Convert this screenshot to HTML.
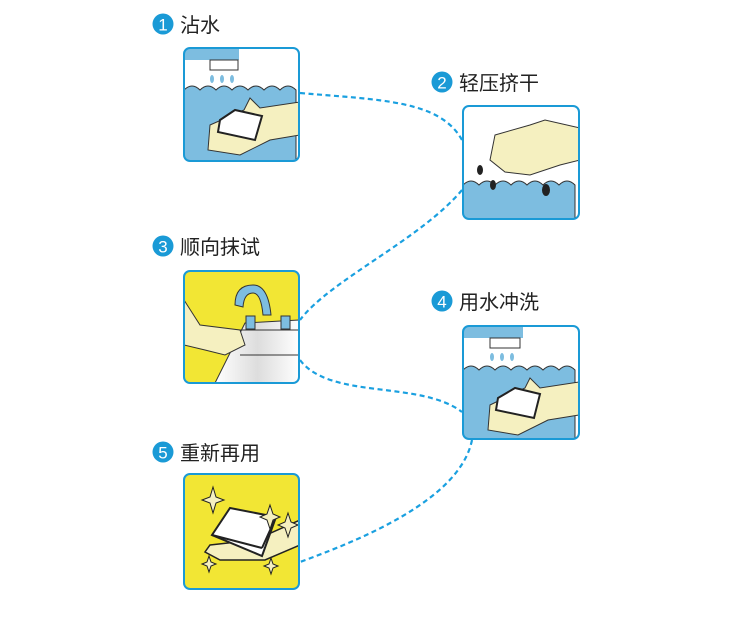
<!DOCTYPE html>
<html><head><meta charset="utf-8"><style>
html,body{margin:0;padding:0;background:#fff;}
svg{display:block}
text{font-family:"Liberation Sans","Noto Sans CJK SC",sans-serif;}
</style></head><body>
<svg width="750" height="621" viewBox="0 0 750 621" xmlns="http://www.w3.org/2000/svg">
<defs>
<clipPath id="c1"><rect x="184" y="48" width="115" height="113" rx="6"/></clipPath>
<clipPath id="c2"><rect x="463" y="106" width="116" height="113" rx="6"/></clipPath>
<clipPath id="c3"><rect x="184" y="271" width="115" height="112" rx="6"/></clipPath>
<clipPath id="c4"><rect x="463" y="326" width="116" height="113" rx="6"/></clipPath>
<clipPath id="c5"><rect x="184" y="474" width="115" height="115" rx="6"/></clipPath>
<linearGradient id="sink" x1="0" x2="1"><stop offset="0" stop-color="#fff"/><stop offset="0.5" stop-color="#ddd"/><stop offset="1" stop-color="#fff"/></linearGradient>
</defs>
<g fill="none" stroke="#1aa0e0" stroke-width="2.2" stroke-dasharray="5,3.5">
<path d="M300 93 C380 100 440 100 462 140"/>
<path d="M462 190 C420 240 330 280 300 320"/>
<path d="M300 360 C330 400 420 380 462 412"/>
<path d="M472 440 C460 500 360 540 300 562"/>
</g>
<g font-size="20" fill="#222">
<circle cx="163" cy="24" r="10.5" fill="#1a9ad6"/><text x="163" y="30.5" font-size="17" fill="#fff" text-anchor="middle">1</text><text x="180" y="32">沾水</text>
<circle cx="442" cy="82" r="10.5" fill="#1a9ad6"/><text x="442" y="88.5" font-size="17" fill="#fff" text-anchor="middle">2</text><text x="459" y="90">轻压挤干</text>
<circle cx="163" cy="246" r="10.5" fill="#1a9ad6"/><text x="163" y="252.5" font-size="17" fill="#fff" text-anchor="middle">3</text><text x="180" y="254">顺向抹试</text>
<circle cx="442" cy="301" r="10.5" fill="#1a9ad6"/><text x="442" y="307.5" font-size="17" fill="#fff" text-anchor="middle">4</text><text x="459" y="309">用水冲洗</text>
<circle cx="163" cy="452" r="10.5" fill="#1a9ad6"/><text x="163" y="458.5" font-size="17" fill="#fff" text-anchor="middle">5</text><text x="180" y="460">重新再用</text>
</g>
<g clip-path="url(#c1)">
<rect x="184" y="48" width="115" height="113" fill="#fff"/>
<rect x="184" y="48" width="55" height="12" fill="#7dbde0"/><rect x="210" y="60" width="28" height="10" fill="#fff" stroke="#333"/>
<path d="M184 90 q8 -8 16 0 q8 -8 16 0 q8 -8 16 0 q8 -8 16 0 q8 -8 16 0 q8 -8 16 0 q8 -8 16 0 V161 H184Z" fill="#7dbde0" stroke="#333"/>
<path d="M244 110 L250 98 L260 108 L300 102 V135 L270 140 L240 155 L208 150 L210 125Z" fill="#f5f0c0" stroke="#333"/>
<path d="M220 120 L235 110 L262 116 L255 140 L218 132Z" fill="#fff" stroke="#222" stroke-width="2"/>
<g fill="#7dbde0"><ellipse cx="212" cy="79" rx="2" ry="4"/><ellipse cx="222" cy="79" rx="2" ry="4"/><ellipse cx="232" cy="79" rx="2" ry="4"/></g>
</g>
<rect x="184" y="48" width="115" height="113" rx="6" fill="none" stroke="#1a9ad6" stroke-width="2"/>
<g clip-path="url(#c2)">
<rect x="463" y="106" width="116" height="113" fill="#fff"/>
<path d="M463 185 q8 -8 16 0 q8 -8 16 0 q8 -8 16 0 q8 -8 16 0 q8 -8 16 0 q8 -8 16 0 q8 -8 16 0 V219 H463Z" fill="#7dbde0" stroke="#333"/>
<path d="M495 135 L530 125 L545 120 L580 128 V160 L560 165 L530 175 L505 172 L490 160Z" fill="#f5f0c0" stroke="#333"/>
<g fill="#222"><ellipse cx="480" cy="170" rx="3" ry="5"/><ellipse cx="493" cy="185" rx="3" ry="5"/><ellipse cx="546" cy="190" rx="4" ry="6"/></g>
</g>
<rect x="463" y="106" width="116" height="113" rx="6" fill="none" stroke="#1a9ad6" stroke-width="2"/>
<g clip-path="url(#c3)">
<rect x="184" y="271" width="115" height="112" fill="#f2e634"/>
<path d="M245 323 L300 320 V383 H215 Z" fill="url(#sink)" stroke="#333"/>
<path d="M240 330 H300 M240 355 H300" stroke="#333"/>
<path d="M235 305 q0 -20 18 -20 q15 0 18 30 h-8 q-2 -22 -10 -22 q-9 0 -10 14Z" fill="#7dbde0" stroke="#333"/>
<rect x="246" y="316" width="9" height="13" fill="#7dbde0" stroke="#333"/><rect x="281" y="316" width="9" height="13" fill="#7dbde0" stroke="#333"/>
<path d="M184 300 L200 325 L240 330 L245 345 L225 355 L205 350 L184 345Z" fill="#f5f0c0" stroke="#333"/>
</g>
<rect x="184" y="271" width="115" height="112" rx="6" fill="none" stroke="#1a9ad6" stroke-width="2"/>
<g clip-path="url(#c4)">
<rect x="463" y="326" width="116" height="113" fill="#fff"/>
<rect x="463" y="326" width="60" height="12" fill="#7dbde0"/><rect x="490" y="338" width="30" height="10" fill="#fff" stroke="#333"/>
<path d="M463 370 q8 -8 16 0 q8 -8 16 0 q8 -8 16 0 q8 -8 16 0 q8 -8 16 0 q8 -8 16 0 q8 -8 16 0 V439 H463Z" fill="#7dbde0" stroke="#333"/>
<path d="M525 388 L530 378 L540 388 L579 382 V415 L548 420 L518 435 L488 430 L490 405Z" fill="#f5f0c0" stroke="#333"/>
<path d="M498 398 L515 388 L540 394 L534 418 L496 410Z" fill="#fff" stroke="#222" stroke-width="2"/>
<g fill="#7dbde0"><ellipse cx="492" cy="357" rx="2" ry="4"/><ellipse cx="502" cy="357" rx="2" ry="4"/><ellipse cx="512" cy="357" rx="2" ry="4"/></g>
</g>
<rect x="463" y="326" width="116" height="113" rx="6" fill="none" stroke="#1a9ad6" stroke-width="2"/>
<g clip-path="url(#c5)">
<rect x="184" y="474" width="115" height="115" fill="#f2e634"/>
<path d="M210 545 L255 540 L300 520 V545 L265 560 L220 560 L205 552Z" fill="#f5f0c0" stroke="#222" stroke-width="1.5"/>
<path d="M212 535 L230 508 L276 517 L262 556 Z" fill="#fff" stroke="#222" stroke-width="2"/>
<path d="M212 535 L262 548 M276 517 L262 548" stroke="#222" stroke-width="2"/>
<g fill="#f5f0c0" stroke="#222">
<path d="M213 487 l3 10 l8 3 l-8 3 l-3 10 l-3 -10 l-8 -3 l8 -3Z"/>
<path d="M270 505 l3 9 l7 3 l-7 3 l-3 9 l-3 -9 l-7 -3 l7 -3Z"/>
<path d="M288 513 l3 9 l7 3 l-7 3 l-3 9 l-3 -9 l-7 -3 l7 -3Z"/>
<path d="M209 556 l2 6 l5 2 l-5 2 l-2 6 l-2 -6 l-5 -2 l5 -2Z"/>
<path d="M271 558 l2 6 l5 2 l-5 2 l-2 6 l-2 -6 l-5 -2 l5 -2Z"/>
</g>
</g>
<rect x="184" y="474" width="115" height="115" rx="6" fill="none" stroke="#1a9ad6" stroke-width="2"/>
</svg>
</body></html>
